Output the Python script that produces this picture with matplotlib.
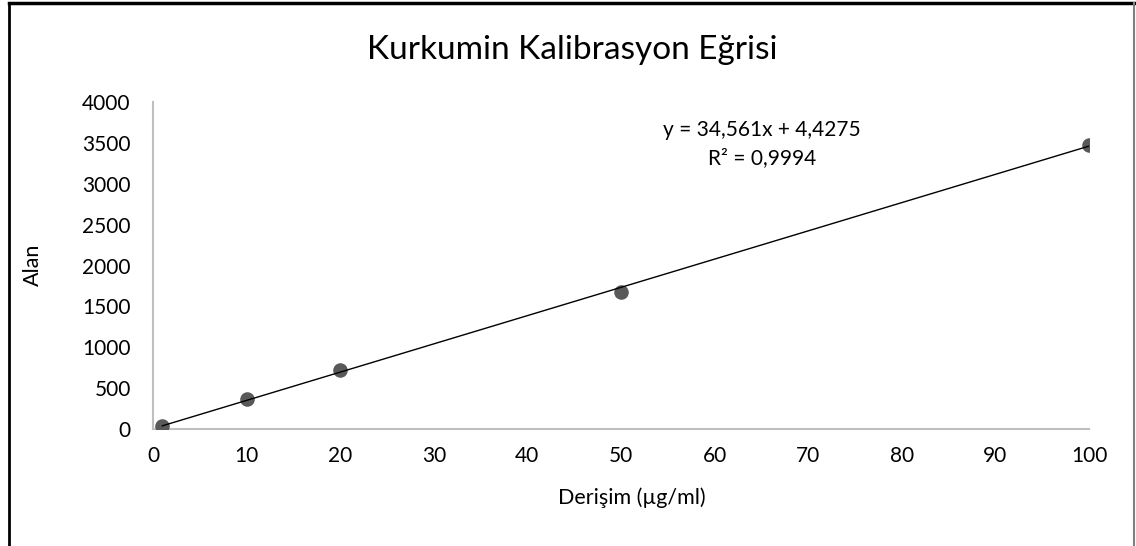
import matplotlib
matplotlib.use("Agg")
import matplotlib.pyplot as plt
from matplotlib.lines import Line2D
import numpy as np

conc = [1, 10, 20, 50, 100]
area = [35, 365, 725, 1680, 3480]
slope = 34.561
intercept = 4.4275
eq_text = "y = 34,561x + 4,4275"
r2_text = "R² = 0,9994"
title = "Kurkumin Kalibrasyon Eğrisi"
xlabel = "Derişim (µg/ml)"
ylabel = "Alan"
xticks = list(range(0, 101, 10))
yticks = list(range(0, 4001, 500))

plt.rcParams['font.family'] = ['Lato', 'DejaVu Sans']

fig = plt.figure(figsize=(11.36, 5.46), dpi=100)
ax = fig.add_axes([153/1136, 1-429/546, (1089-153)/1136, (429-102)/546])

ax.scatter(conc, area, s=110, color='#595959', zorder=3, linewidths=0)
xs = np.array([conc[0], conc[-1]])
ax.plot(xs, slope*xs + intercept, color='black', lw=1.0, zorder=4)

ax.set_xlim(0, 100)
ax.set_ylim(0, 4000)
ax.set_xticks(xticks)
ax.set_yticks(yticks)
ax.tick_params(length=0, labelsize=15, colors='black')
ax.tick_params(axis='y', pad=16)
ax.tick_params(axis='x', pad=12)
for s in ['top', 'right']:
    ax.spines[s].set_visible(False)
for s in ['left', 'bottom']:
    ax.spines[s].set_color('#BFBFBF')
    ax.spines[s].set_linewidth(1.5)

fig.text(572/1136, 1-50/546, title, ha='center', va='center', fontsize=24)
fig.text(632/1136, 1-498/546, xlabel, ha='center', va='center', fontsize=15.5)
fig.text(33/1136, 1-265/546, ylabel, ha='center', va='center', fontsize=15.5, rotation=90)
fig.text(762/1136, 1-130/546, eq_text, ha='center', va='center', fontsize=15)
fig.text(762/1136, 1-158/546, r2_text, ha='center', va='center', fontsize=15)

fig.add_artist(Line2D([9/1136, 9/1136], [0, 1-3/546], color='black', lw=2, transform=fig.transFigure))
fig.add_artist(Line2D([9/1136, 1134/1136], [1-3/546, 1-3/546], color='black', lw=2.5, transform=fig.transFigure))
fig.add_artist(Line2D([1134/1136, 1134/1136], [0, 1-3/546], color='#7f7f7f', lw=1.5, transform=fig.transFigure))

fig.savefig("out.png", dpi=100, facecolor='white')
